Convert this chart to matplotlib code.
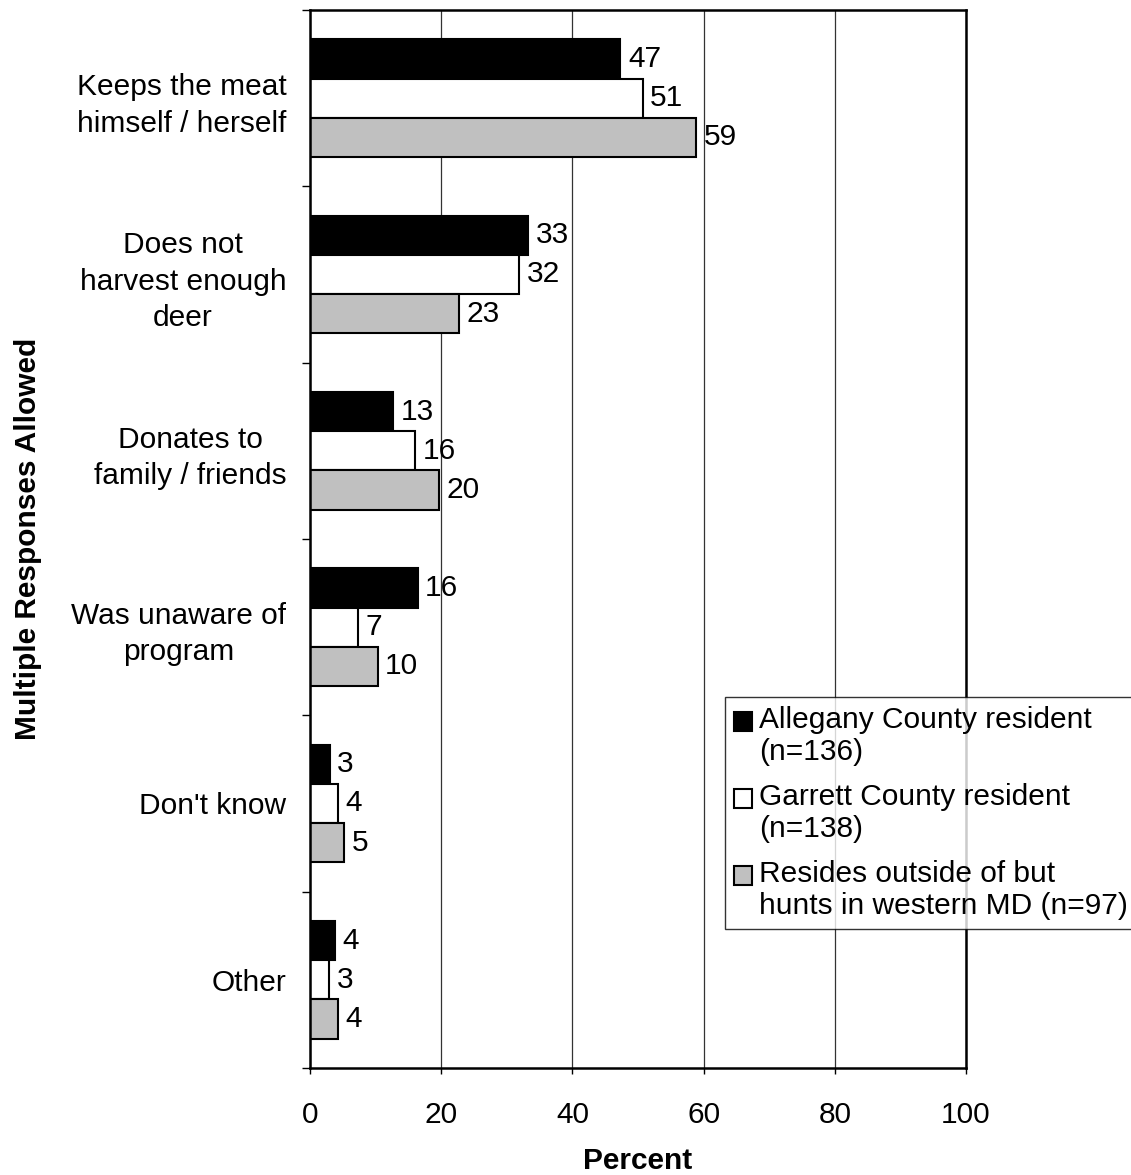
import matplotlib
matplotlib.use('Agg')
import matplotlib.pyplot as plt
from matplotlib.patches import Patch, Rectangle
from matplotlib.legend_handler import HandlerPatch
import numpy as np

plt.rcParams['font.family'] = ['Liberation Sans', 'DejaVu Sans']

# data
categories = ['Keeps the meat\nhimself / herself',
              'Does not\nharvest enough\ndeer',
              'Donates to\nfamily / friends',
              'Was unaware of\nprogram',
              "Don't know",
              'Other']
allegany = [47.3, 33.3, 12.7, 16.4, 3.0, 3.8]
garrett = [50.7, 31.9, 16.0, 7.3, 4.3, 2.9]
outside = [58.8, 22.7, 19.6, 10.3, 5.2, 4.2]
allegany_lbl = [47, 33, 13, 16, 3, 4]
garrett_lbl = [51, 32, 16, 7, 4, 3]
outside_lbl = [59, 23, 20, 10, 5, 4]
series_names = ['Allegany County resident\n(n=136)',
                'Garrett County resident\n(n=138)',
                'Resides outside of but\nhunts in western MD (n=97)']
colors = ['#000000', '#ffffff', '#c0c0c0']

fs = 21.5

fig = plt.figure(figsize=(11.31, 11.75), dpi=100)
ax = fig.add_axes([0.2741, 0.0911, 0.58, 0.9004])

y = np.arange(len(categories))
h = 0.222
for k, (vals, lbls) in enumerate([(allegany, allegany_lbl),
                                  (garrett, garrett_lbl),
                                  (outside, outside_lbl)]):
    pos = y + (k - 1) * h
    ax.barh(pos, vals, h, color=colors[k], edgecolor='black',
            linewidth=1.5, zorder=3)
    for p, v, l in zip(pos, vals, lbls):
        ax.annotate(str(l), (v, p), xytext=(5.5, 0), textcoords='offset points',
                    ha='left', va='center', fontsize=fs)

ax.set_xlim(0, 100)
ax.set_ylim(len(categories) - 0.5, -0.5)
ax.set_xticks(range(0, 101, 20))
ax.xaxis.grid(True, color='#333333', linewidth=0.9, zorder=0)
ax.set_yticks(np.arange(-0.5, len(categories), 1))
ax.set_yticklabels([])
ax.set_yticks(y, minor=True)
ax.set_yticklabels(categories, minor=True, multialignment='center',
                   fontsize=fs, linespacing=1.38)
ax.tick_params(axis='y', which='minor', length=0, pad=17)
ax.tick_params(axis='y', which='major', length=6, width=1)
ax.tick_params(axis='x', length=4, width=1, pad=20, labelsize=fs)

for s in ax.spines.values():
    s.set_linewidth(1.8)
    s.set_zorder(4)

ax.set_xlabel('Percent', fontsize=fs, fontweight='bold')
ax.xaxis.set_label_coords(0.5, -0.0745)
ax.set_ylabel('Multiple Responses Allowed', fontsize=fs, fontweight='bold')
ax.yaxis.set_label_coords(-0.409, 0.5)


# legend squares sit next to the first line of each label
def square_up(legend, orig_handle, xdescent, ydescent, width, height, fontsize):
    return Rectangle((-xdescent, -ydescent + 0.5 * fontsize), width, height)


proxies = [Patch(facecolor=c, edgecolor='black', linewidth=1.5) for c in colors]
leg = fig.legend(proxies, series_names, loc='upper left',
                 bbox_to_anchor=(725 / 1131, 1 - 697 / 1175),
                 handler_map={Patch: HandlerPatch(patch_func=square_up)},
                 fontsize=fs, frameon=True, fancybox=False,
                 handlelength=0.6, handleheight=0.6, handletextpad=0.25,
                 borderpad=0.3, labelspacing=0.55, borderaxespad=0)
for t in leg.get_texts():
    t.set_linespacing(1.2)
leg.get_frame().set_edgecolor('black')
leg.get_frame().set_linewidth(1.0)

fig.savefig('out.png', dpi=100)
